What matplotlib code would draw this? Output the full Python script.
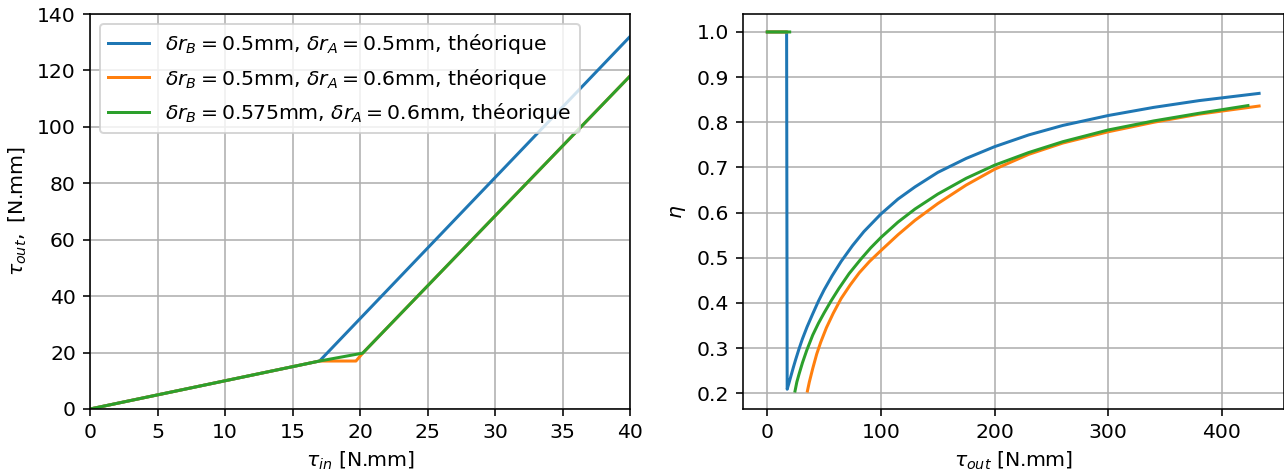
import numpy as np
import matplotlib
matplotlib.use("Agg")
import matplotlib.pyplot as plt

plt.rcParams['font.size'] = 10.2

# ---- Left panel data: tau_out vs tau_in ----
tin_blue = [0, 17, 40]
tout_blue = [0, 17, 132]
tin_orange = [0, 17, 19.7, 20.2, 40]
tout_orange = [0, 17, 17, 19.8, 118]
tin_green = [0, 17, 20.2, 40]
tout_green = [0, 17, 19.8, 118]

labels = [r'$\delta r_B = 0.5$mm, $\delta r_A = 0.5$mm, théorique',
          r'$\delta r_B = 0.5$mm, $\delta r_A = 0.6$mm, théorique',
          r'$\delta r_B = 0.575$mm, $\delta r_A = 0.6$mm, théorique']

# ---- Right panel data: efficiency vs tau_out ----
eta_tout_blue = [0, 17, 17.5, 19, 21, 23, 25, 28, 31, 35, 40, 45, 50, 57, 65, 75, 85, 100,
                 115, 130, 150, 175, 200, 230, 260, 300, 340, 380, 432.8]
eta_blue = [1.0, 1.0, 0.209, 0.222, 0.240, 0.258, 0.275, 0.299, 0.321, 0.347, 0.376, 0.404, 0.429,
            0.460, 0.492, 0.527, 0.558, 0.597, 0.630, 0.657, 0.689, 0.720, 0.746, 0.772, 0.793,
            0.815, 0.833, 0.848, 0.864]

eta_tout_orange = [0, 17, np.nan, 35.3, 37, 40, 43.5, 47, 52, 58, 65, 73, 81, 90, 100, 115, 130,
                   150, 175, 200, 230, 260, 300, 340, 380, 432.8]
eta_orange = [1.0, 1.0, np.nan, 0.205, 0.225, 0.255, 0.287, 0.313, 0.345, 0.377, 0.41, 0.44, 0.467,
              0.492, 0.516, 0.551, 0.583, 0.62, 0.661, 0.696, 0.729, 0.754, 0.779, 0.800, 0.818, 0.836]

eta_tout_green = [0, 19.7, np.nan, 24.4, 26, 28, 31, 34.7, 40, 45, 50, 56, 63, 72, 82, 91, 100, 115,
                  130, 150, 175, 200, 230, 260, 300, 340, 380, 423]
eta_green = [1.0, 1.0, np.nan, 0.205, 0.225, 0.243, 0.268, 0.295, 0.329, 0.355, 0.378, 0.404, 0.432,
             0.465, 0.496, 0.522, 0.545, 0.579, 0.608, 0.641, 0.676, 0.705, 0.733, 0.757, 0.783,
             0.803, 0.820, 0.837]

colors = ['#1f77b4', '#ff7f0e', '#2ca02c']

fig = plt.figure(figsize=(1284/144, 475/144), dpi=144)
W, H = 1284, 475
ax1 = fig.add_axes([90/W, (H-409)/H, 540/W, 395/H])
ax2 = fig.add_axes([742.7/W, (H-409)/H, 541/W, 395/H])

ax1.plot(tin_blue, tout_blue, color=colors[0], label=labels[0])
ax1.plot(tin_orange, tout_orange, color=colors[1], label=labels[1])
ax1.plot(tin_green, tout_green, color=colors[2], label=labels[2])
ax1.set_xlim(0, 40)
ax1.set_ylim(0, 140)
ax1.set_xlabel(r'$\tau_{in}$ [N.mm]')
ax1.set_ylabel(r'$\tau_{out},$ [N.mm]')
ax1.grid(True)
ax1.legend(loc='upper left')

ax2.plot(eta_tout_blue, eta_blue, color=colors[0])
ax2.plot(eta_tout_orange, eta_orange, color=colors[1])
ax2.plot(eta_tout_green, eta_green, color=colors[2])
ax2.set_xlabel(r'$\tau_{out}$ [N.mm]')
ax2.set_ylabel(r'$\eta$')
ax2.grid(True)

fig.savefig('out.png', dpi=144)
